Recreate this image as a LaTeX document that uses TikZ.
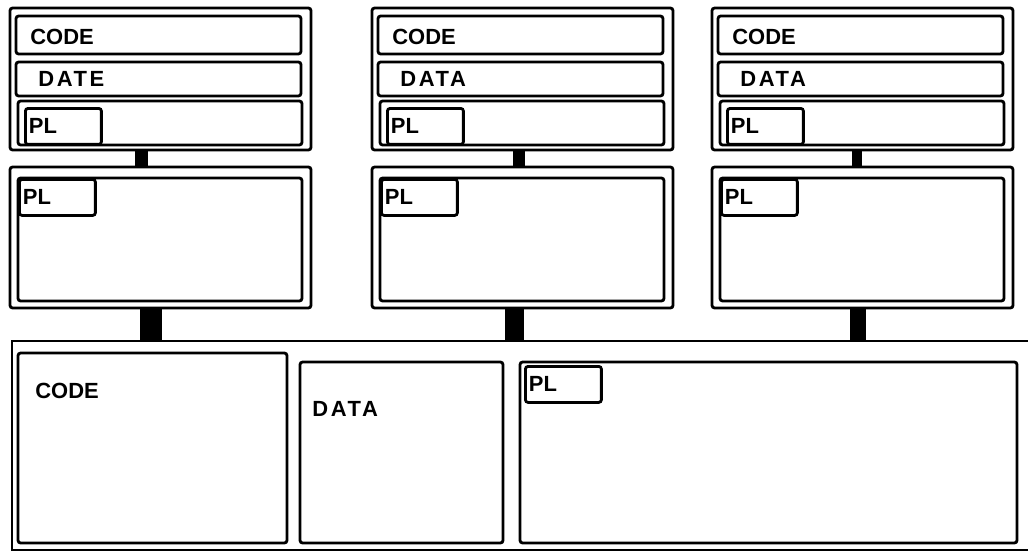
\documentclass[tikz,border=0pt]{standalone}
\usepackage{fontspec}
\setmainfont{Liberation Sans}
\newfontfamily\spacedfont[LetterSpace=12]{Liberation Sans}
\begin{document}
\begin{tikzpicture}[x=0.02cm, y=-0.02cm,
    box/.style={draw, line width=1.6pt, rounded corners=1.5pt},
    lbl/.style={anchor=west, inner sep=0pt, font=\fontsize{12.5}{14}\selectfont\bfseries},
    plbox/.style={draw, line width=1.6pt, rounded corners=1.5pt, anchor=north west,
        minimum width=1.52cm, minimum height=0.72cm, text width=1.38cm, align=left,
        inner xsep=0.07cm, font=\fontsize{12.5}{14}\selectfont\bfseries}]
    % --- Page (pixel units, y grows downward) ---
    \useasboundingbox (0,0) rectangle (1028,552);

    % --- Three upper units: x / top bar / lower bar / data label ---
    \foreach \x/\ta/\tb/\ba/\bb/\dl [count=\i] in
        {10/135/148/140/162/DATE, 372/513/525/505/524/DATA, 712/852/862/850/866/DATA} {
        % top unit with its three rows
        \draw[box] (\x,8) rectangle (\x+301,150);
        \draw[box] (\x+6,16) rectangle (\x+291,54);
        \draw[box] (\x+6,62) rectangle (\x+291,96);
        \draw[box] (\x+8,101) rectangle (\x+292,145);
        \node[lbl] (code\i) at (\x+20,37) {CODE};
        \node[lbl] (data\i) at (\x+28,79) {\spacedfont\bfseries\dl};
        \node[plbox] (pl\i) at (\x+14,107) {PL};
        % middle unit
        \draw[box] (\x,167) rectangle (\x+301,308);
        \draw[box] (\x+8,178) rectangle (\x+292,301);
        \node[plbox] (plm\i) at (\x+8,178) {PL};
        % links
        \fill (\ta,150) rectangle (\tb,167);
        \fill (\ba,308) rectangle (\bb,341);
    }

    % --- Bottom unit ---
    \draw[line width=1.4pt] (1028,341) -- (12,341) -- (12,550) -- (1028,550);
    \draw[box] (18,353) rectangle (287,543);
    \draw[box] (300,362) rectangle (503,543);
    \draw[box] (520,362) rectangle (1017,543);
    \node[lbl] (codeB) at (35,391) {CODE};
    \node[lbl] (dataB) at (312,409) {\spacedfont\bfseries DATA};
    \node[plbox] (plB) at (524,365) {PL};
\end{tikzpicture}
\end{document}
